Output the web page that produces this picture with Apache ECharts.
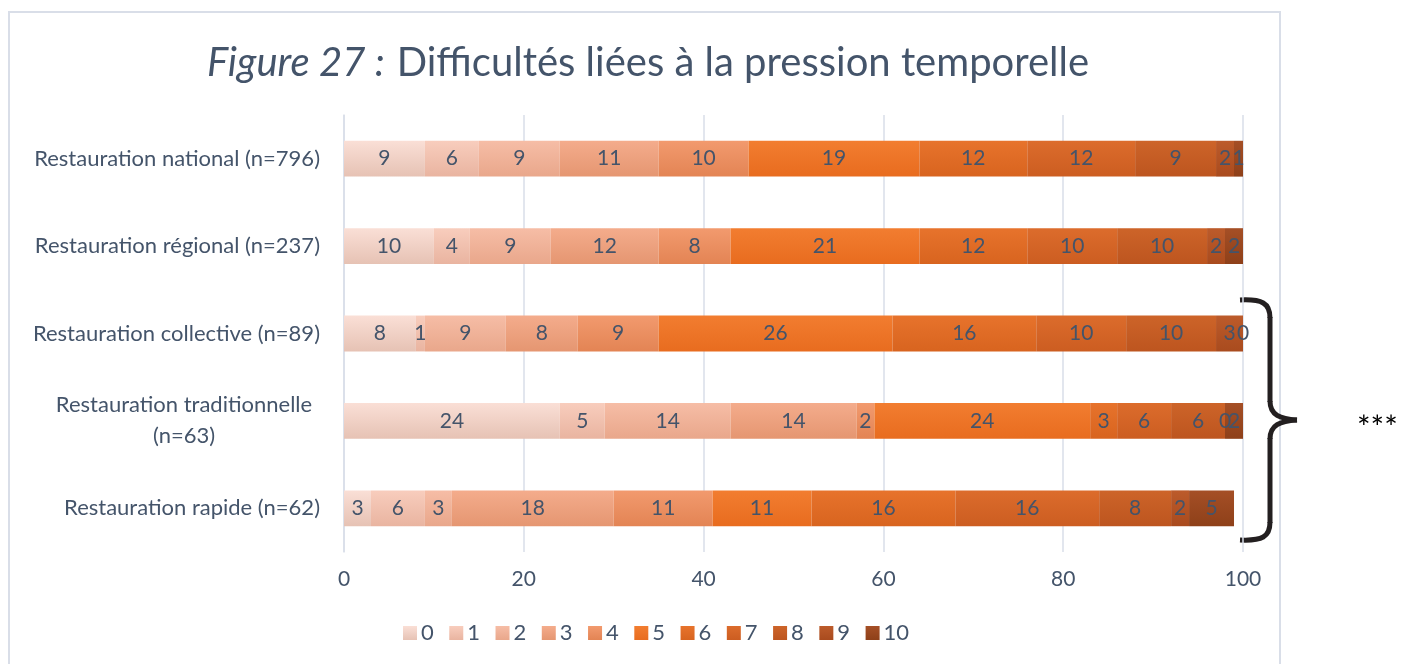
<!DOCTYPE html>
<html>
<head>
<meta charset="utf-8">
<script src="https://cdn.jsdelivr.net/npm/echarts@6/dist/echarts.min.js"></script>
<style>
html,body{margin:0;padding:0;background:#fff;}
#c{width:1401px;height:664px;}
</style>
</head>
<body>
<div id="c"></div>
<script>
const categories = [
  'Restauration national (n=796)',
  'Restauration régional (n=237)',
  'Restauration collective (n=89)',
  'Restauration traditionnelle\n(n=63)',
  'Restauration rapide (n=62)'
];
const scoreNames = ['0','1','2','3','4','5','6','7','8','9','10'];
// values per score (0..10), one value per category in order above
const s0  = [9, 10, 8, 24, 3];
const s1  = [6, 4, 1, 5, 6];
const s2  = [9, 9, 9, 14, 3];
const s3  = [11, 12, 8, 14, 18];
const s4  = [10, 8, 9, 2, 11];
const s5  = [19, 21, 26, 24, 11];
const s6  = [12, 12, 16, 3, 16];
const s7  = [12, 10, 10, 6, 16];
const s8  = [9, 10, 10, 6, 8];
const s9  = [2, 2, 3, 0, 2];
const s10 = [1, 2, 0, 2, 5];
const seriesValues = [s0,s1,s2,s3,s4,s5,s6,s7,s8,s9,s10];
const xTicks = [0, 20, 40, 60, 80, 100];

const colorsTop = ['#fadfd6','#f8cdbd','#f6bda6','#f4ac8c','#f29a6e','#f27d30','#e7732c','#dc6c2c','#cd6429','#bc5b2b','#a54f26'];
const colorsBot = ['#e6c2b4','#e9b4a0','#e9a78b','#e59671','#e38454','#e86c1f','#d8641f','#cc5d21','#bd551f','#a94b1e','#8e4019'];
const textColor = '#44546a';
const FONT = 'Lato, "Open Sans", sans-serif';

const chart = echarts.init(document.getElementById('c'), null, {renderer:'canvas'});

const series = seriesValues.map((vals, i) => ({
  name: scoreNames[i],
  type: 'bar',
  stack: 'total',
  barWidth: '41%',
  data: vals,
  itemStyle: {
    color: {type:'linear', x:0, y:0, x2:0, y2:1, colorStops:[
      {offset:0,color:colorsTop[i]},{offset:1,color:colorsBot[i]}
    ]}
  },
  label: {
    show: true,
    position: 'inside',
    color: textColor,
    fontSize: 21,
    fontFamily: FONT,
    formatter: p => String(p.value)
  },
  emphasis: {disabled: true}
}));

const braceStyle = {fill:'none', stroke:'#231f20', lineWidth:5};

chart.setOption({
  backgroundColor: '#ffffff',
  animation: false,
  color: colorsBot,
  title: {
    text: '{i|Figure 27 :}{n|Difficultés liées à la pression temporelle}',
    left: 643,
    textAlign: 'center',
    top: 38,
    textStyle: {
      rich: {
        i: {fontStyle:'italic', fontWeight:'normal', fontSize: 40, color: textColor, fontFamily: FONT},
        n: {fontWeight:'normal', fontSize: 40, color: textColor, fontFamily: FONT, padding:[0,0,0,12]}
      }
    }
  },
  grid: {left: 344, right: 158, top: 115, bottom: 112, containLabel: false},
  xAxis: {
    type: 'value',
    min: 0, max: 100, interval: 20,
    axisLine: {show:false},
    axisTick: {show:false},
    splitLine: {show:true, lineStyle:{color:'#d9dee8', width:1.5}},
    axisLabel: {color: textColor, fontSize: 21, fontFamily: FONT, margin: 17,
      formatter: v => xTicks.includes(v) ? String(v) : ''}
  },
  yAxis: {
    type: 'category',
    data: categories,
    inverse: true,
    axisLine: {show:true, lineStyle:{color:'#d9dee8', width:1.5}},
    axisTick: {show:false},
    axisLabel: {
      color: textColor, fontSize: 22, fontFamily: FONT, margin: 24,
      formatter: v => v.includes('\n') ? v.split('\n').map(s => '{c|' + s + '}').join('\n') : v,
      rich: {c: {width: 272, align: 'center', color: textColor, fontSize: 22, fontFamily: FONT, lineHeight: 31}}
    }
  },
  legend: {
    top: 617,
    left: 398,
    itemWidth: 14, itemHeight: 14,
    itemGap: 15.5,
    itemStyle: {borderWidth: 0},
    icon: 'rect',
    textStyle: {color: textColor, fontSize: 22, fontFamily: FONT, padding: [0,0,0,-1]},
    data: scoreNames
  },
  graphic: [
    {type:'rect', silent:true, shape:{x:9, y:12, width:1271, height:670},
     style:{fill:'none', stroke:'#d9dee8', lineWidth:2}},
    {type:'bezierCurve', silent:true, shape:{x1:1240,y1:300,x2:1270,y2:318,cpx1:1262,cpy1:299,cpx2:1270,cpy2:303}, style:braceStyle},
    {type:'line', silent:true, shape:{x1:1270,y1:317,x2:1270,y2:402}, style:braceStyle},
    {type:'bezierCurve', silent:true, shape:{x1:1270,y1:401,x2:1297,y2:420,cpx1:1270,cpy1:415,cpx2:1280,cpy2:419}, style:braceStyle},
    {type:'bezierCurve', silent:true, shape:{x1:1297,y1:420,x2:1270,y2:439,cpx1:1280,cpy1:421,cpx2:1270,cpy2:425}, style:braceStyle},
    {type:'line', silent:true, shape:{x1:1270,y1:438,x2:1270,y2:523}, style:braceStyle},
    {type:'bezierCurve', silent:true, shape:{x1:1270,y1:522,x2:1240,y2:540,cpx1:1270,cpy1:537,cpx2:1262,cpy2:541}, style:braceStyle},
    {type:'text', silent:true, left:1357, top:413,
     style:{text:'***', fill:'#000', fontSize:32, fontFamily:FONT}}
  ],
  series: series
});
</script>
</body>
</html>
